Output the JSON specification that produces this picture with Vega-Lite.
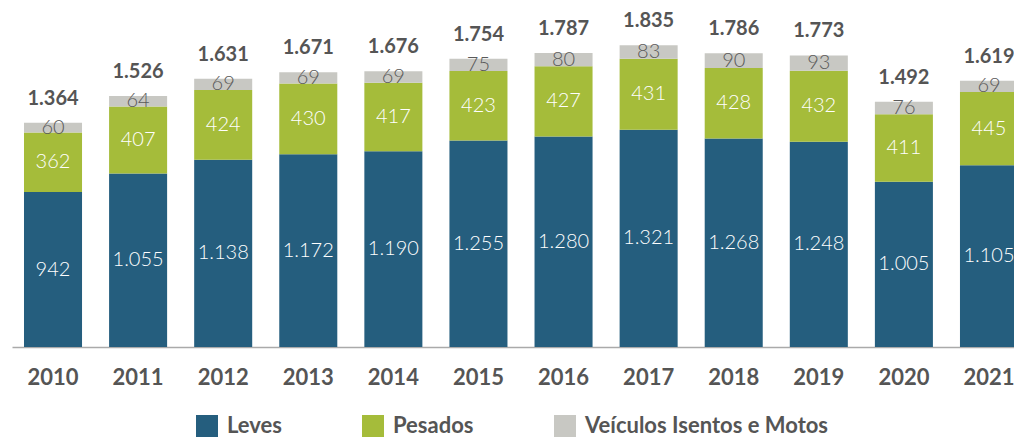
{
  "$schema": "https://vega.github.io/schema/vega-lite/v6.json",
  "autosize": "none",
  "padding": {"left": 12, "top": 0, "right": 0, "bottom": 90},
  "width": 1018,
  "height": 347,
  "config": {
    "view": {"stroke": null},
    "font": "Lato",
    "locale": {"number": {"decimal": ",", "thousands": ".", "grouping": [3], "currency": ["R$", ""]}}
  },
  "datasets": {
    "parts": [
      {"ano": "2010", "cat": "Leves", "valor": 942},
      {"ano": "2010", "cat": "Pesados", "valor": 362},
      {"ano": "2010", "cat": "Veículos Isentos e Motos", "valor": 60},
      {"ano": "2011", "cat": "Leves", "valor": 1055},
      {"ano": "2011", "cat": "Pesados", "valor": 407},
      {"ano": "2011", "cat": "Veículos Isentos e Motos", "valor": 64},
      {"ano": "2012", "cat": "Leves", "valor": 1138},
      {"ano": "2012", "cat": "Pesados", "valor": 424},
      {"ano": "2012", "cat": "Veículos Isentos e Motos", "valor": 69},
      {"ano": "2013", "cat": "Leves", "valor": 1172},
      {"ano": "2013", "cat": "Pesados", "valor": 430},
      {"ano": "2013", "cat": "Veículos Isentos e Motos", "valor": 69},
      {"ano": "2014", "cat": "Leves", "valor": 1190},
      {"ano": "2014", "cat": "Pesados", "valor": 417},
      {"ano": "2014", "cat": "Veículos Isentos e Motos", "valor": 69},
      {"ano": "2015", "cat": "Leves", "valor": 1255},
      {"ano": "2015", "cat": "Pesados", "valor": 423},
      {"ano": "2015", "cat": "Veículos Isentos e Motos", "valor": 75},
      {"ano": "2016", "cat": "Leves", "valor": 1280},
      {"ano": "2016", "cat": "Pesados", "valor": 427},
      {"ano": "2016", "cat": "Veículos Isentos e Motos", "valor": 80},
      {"ano": "2017", "cat": "Leves", "valor": 1321},
      {"ano": "2017", "cat": "Pesados", "valor": 431},
      {"ano": "2017", "cat": "Veículos Isentos e Motos", "valor": 83},
      {"ano": "2018", "cat": "Leves", "valor": 1268},
      {"ano": "2018", "cat": "Pesados", "valor": 428},
      {"ano": "2018", "cat": "Veículos Isentos e Motos", "valor": 90},
      {"ano": "2019", "cat": "Leves", "valor": 1248},
      {"ano": "2019", "cat": "Pesados", "valor": 432},
      {"ano": "2019", "cat": "Veículos Isentos e Motos", "valor": 93},
      {"ano": "2020", "cat": "Leves", "valor": 1005},
      {"ano": "2020", "cat": "Pesados", "valor": 411},
      {"ano": "2020", "cat": "Veículos Isentos e Motos", "valor": 76},
      {"ano": "2021", "cat": "Leves", "valor": 1105},
      {"ano": "2021", "cat": "Pesados", "valor": 445},
      {"ano": "2021", "cat": "Veículos Isentos e Motos", "valor": 69}
    ],
    "totais": [
      {"ano": "2010", "total": 1364},
      {"ano": "2011", "total": 1526},
      {"ano": "2012", "total": 1631},
      {"ano": "2013", "total": 1671},
      {"ano": "2014", "total": 1676},
      {"ano": "2015", "total": 1754},
      {"ano": "2016", "total": 1787},
      {"ano": "2017", "total": 1835},
      {"ano": "2018", "total": 1786},
      {"ano": "2019", "total": 1773},
      {"ano": "2020", "total": 1492},
      {"ano": "2021", "total": 1619}
    ]
  },
  "encoding": {
    "x": {
      "field": "ano", "type": "nominal",
      "scale": {"paddingInner": 0.318, "paddingOuter": 0.141},
      "axis": {
        "title": null, "labelAngle": 0, "ticks": false,
        "domainColor": "#aaaaaa", "domainWidth": 1.5,
        "labelFont": "Lato", "labelFontSize": 22, "labelFontWeight": "bold",
        "labelColor": "#555555", "labelPadding": 20
      }
    }
  },
  "layer": [
    {
      "data": {"name": "parts"},
      "mark": {"type": "bar"},
      "encoding": {
        "y": {"field": "valor", "type": "quantitative", "stack": "zero",
              "scale": {"domain": [0, 2110], "nice": false}, "axis": null},
        "order": {"field": "cat", "type": "nominal", "sort": "ascending"},
        "color": {
          "field": "cat", "type": "nominal",
          "scale": {"domain": ["Leves", "Pesados", "Veículos Isentos e Motos"],
                    "range": ["#255e7e", "#a5bc3a", "#c8c8c3"]},
          "legend": {
            "title": null, "orient": "none", "direction": "horizontal",
            "legendX": 184, "legendY": 415,
            "symbolType": "square", "symbolSize": 484, "symbolStrokeWidth": 0,
            "symbolOpacity": 1,
            "labelFont": "Lato", "labelFontSize": 22, "labelFontWeight": "bold",
            "labelColor": "#555555", "labelOffset": 9,
            "columnPadding": 80, "labelLimit": 400
          }
        }
      }
    },
    {
      "data": {"name": "parts"},
      "mark": {"type": "text", "baseline": "middle", "fontSize": 20, "fontWeight": 300, "font": "Lato"},
      "encoding": {
        "y": {"field": "valor", "type": "quantitative", "stack": "zero", "bandPosition": 0.5},
        "order": {"field": "cat", "type": "nominal", "sort": "ascending"},
        "text": {"field": "valor", "type": "quantitative", "format": ",.0f"},
        "color": {
          "field": "cat", "type": "nominal",
          "scale": {"domain": ["Leves", "Pesados", "Veículos Isentos e Motos"],
                    "range": ["#ffffff", "#ffffff", "#5a5a5a"]},
          "legend": null
        }
      }
    },
    {
      "data": {"name": "totais"},
      "mark": {"type": "text", "baseline": "alphabetic", "dy": -18, "fontSize": 20, "fontWeight": "bold", "font": "Lato", "color": "#555555"},
      "encoding": {
        "y": {"field": "total", "type": "quantitative"},
        "text": {"field": "total", "type": "quantitative", "format": ",.0f"}
      }
    }
  ],
  "resolve": {"scale": {"color": "independent"}}
}
